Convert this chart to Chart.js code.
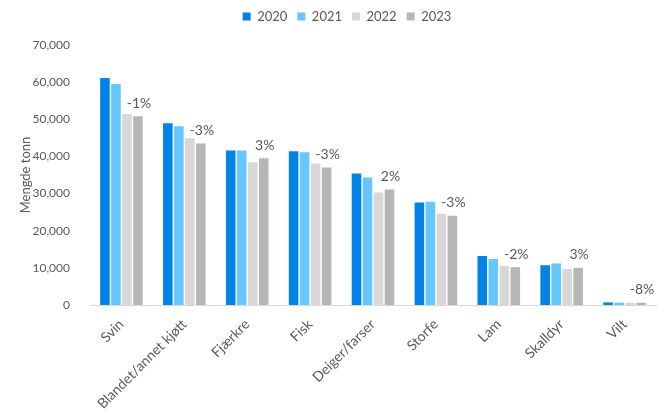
<!DOCTYPE html>
<html>
<head>
<meta charset="utf-8">
<script src="https://cdn.jsdelivr.net/npm/chart.js@4"></script>
<style>
  html, body { margin: 0; padding: 0; background: #fff; }
  #wrap { width: 670px; height: 415px; }
</style>
</head>
<body>
<div id="wrap"><canvas id="chart" width="670" height="415"></canvas></div>
<script>
const categories = ['Svin', 'Blandet/annet kjøtt', 'Fjærkre', 'Fisk', 'Deiger/farser', 'Storfe', 'Lam', 'Skalldyr', 'Vilt'];
const years = ['2020', '2021', '2022', '2023'];
const values2020 = [61100, 48900, 41600, 41400, 35400, 27600, 13200, 10700, 700];
const values2021 = [59500, 48100, 41600, 41100, 34300, 27800, 12400, 11200, 650];
const values2022 = [51400, 44900, 38400, 38100, 30300, 24600, 10500, 9700, 600];
const values2023 = [50800, 43500, 39500, 37000, 31100, 24000, 10200, 10000, 600];
const changeLabels = ['-1%', '-3%', '3%', '-3%', '2%', '-3%', '-2%', '3%', '-8%'];
const colors = ['#0082E6', '#66C6FF', '#D9D8D6', '#B5B6B8'];

const fontFamily = 'Lato, "Open Sans", sans-serif';
const textColor = '#595959';

// Percent change labels above the 2023 bars
const changePlugin = {
  id: 'changeLabels',
  afterDatasetsDraw(chart) {
    const ctx = chart.ctx;
    const meta = chart.getDatasetMeta(3);
    ctx.save();
    ctx.font = '14px ' + fontFamily;
    ctx.fillStyle = textColor;
    ctx.textAlign = 'center';
    ctx.textBaseline = 'middle';
    meta.data.forEach((bar, i) => {
      ctx.fillText(changeLabels[i], bar.x + 1, bar.y - 13);
    });
    ctx.restore();
  }
};

// Extra room under the legend, and nudge it a bit right like the original
const legendSpacing = {
  id: 'legendSpacing',
  beforeInit(chart) {
    const fit = chart.legend.fit;
    chart.legend.fit = function () {
      fit.bind(chart.legend)();
      this.height += 12;
    };
  },
  afterLayout(chart) {
    chart.legend.left += 12;
    chart.legend.right += 12;
  }
};

const seriesValues = [values2020, values2021, values2022, values2023];

new Chart(document.getElementById('chart'), {
  type: 'bar',
  data: {
    labels: categories,
    datasets: years.map((y, i) => ({
      label: y,
      data: seriesValues[i],
      backgroundColor: colors[i],
      categoryPercentage: 0.7,
      barPercentage: 0.87
    }))
  },
  options: {
    responsive: false,
    animation: false,
    layout: { padding: { left: 14, right: 14, top: 0, bottom: 2 } },
    plugins: {
      legend: {
        position: 'top',
        labels: {
          color: textColor,
          font: { family: fontFamily, size: 13 },
          boxWidth: 8,
          boxHeight: 8,
          padding: 10
        }
      },
      tooltip: { enabled: false }
    },
    scales: {
      y: {
        min: 0,
        max: 70000,
        afterFit(axis) { axis.width = 76; },
        ticks: {
          stepSize: 10000,
          color: textColor,
          font: { family: fontFamily, size: 12 },
          padding: 12,
          callback: v => v.toLocaleString('en-US')
        },
        grid: { display: false },
        border: { display: false },
        title: {
          display: true,
          text: 'Mengde tonn',
          color: textColor,
          font: { family: fontFamily, size: 13 }
        }
      },
      x: {
        afterFit(axis) { axis.height = 108; },
        ticks: {
          color: textColor,
          font: { family: fontFamily, size: 14 },
          maxRotation: 45,
          minRotation: 45
        },
        grid: { display: false },
        border: { color: '#D9D9D9', width: 1 }
      }
    }
  },
  plugins: [changePlugin, legendSpacing]
});
</script>
</body>
</html>
